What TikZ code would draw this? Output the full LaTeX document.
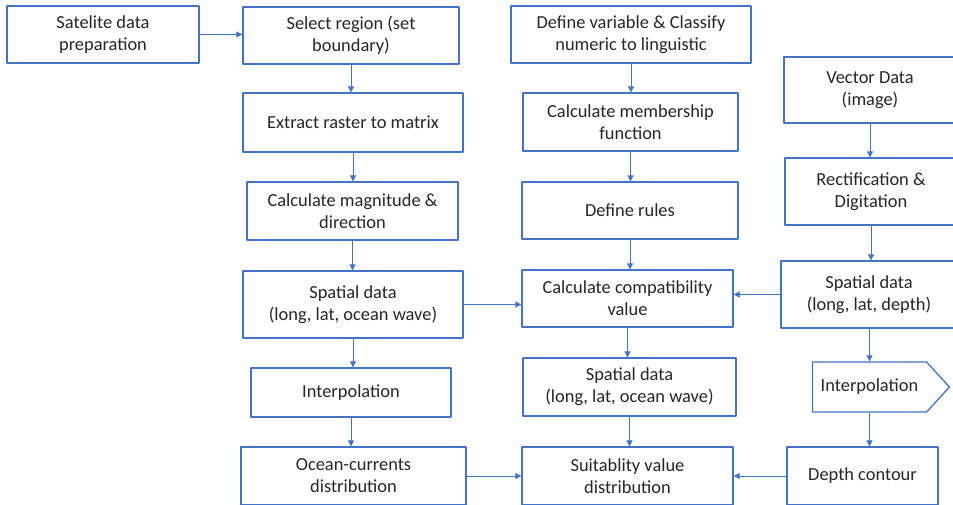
\documentclass[tikz,border=0pt]{standalone}
\usepackage{fontspec}
\setmainfont{Carlito}
\usetikzlibrary{arrows.meta,shapes.symbols}
\definecolor{boxblue}{HTML}{4472C4}
\definecolor{txt}{HTML}{262626}
\begin{document}
\begin{tikzpicture}[x=1pt, y=-1pt, line join=round,
	box/.style={draw=boxblue, line width=1.3pt, fill=white, text=txt, align=center, inner sep=0pt, font=\fontsize{18.4}{22}\selectfont},
	arr/.style={draw=boxblue, line width=0.8pt, -{Triangle[length=6pt,width=6pt]}}]
			\clip (0,0) rectangle (953,504);
			\fill[white] (0,0) rectangle (953,504);
			% left column
			\node[box, minimum width=192, minimum height=57] (sat) at (103,34.5) {Satelite data\\preparation};
			\node[box, minimum width=216, minimum height=57] (sel) at (351,35.5) {Select region (set\\boundary)};
			\node[box, minimum width=220, minimum height=59] (ext) at (353,122.5) {Extract raster to matrix};
			\node[box, minimum width=211, minimum height=58] (mag) at (352.5,211) {Calculate magnitude \&\\direction};
			\node[box, minimum width=220, minimum height=67] (spw) at (353,304.5) {Spatial data\\(long, lat, ocean wave)};
			\node[box, minimum width=200, minimum height=49] (itp) at (351,392.5) {Interpolation};
			\node[box, minimum width=225, minimum height=58] (ocd) at (353.5,476) {Ocean-currents\\distribution};
			% middle column
			\node[box, minimum width=240, minimum height=57] (dvc) at (631,34.5) {Define variable \& Classify\\numeric to linguistic};
			\node[box, minimum width=215, minimum height=58] (mem) at (630.5,122) {Calculate membership\\function};
			\node[box, minimum width=216, minimum height=57] (rul) at (630,210.5) {Define rules};
			\node[box, minimum width=211, minimum height=57] (cmp) at (627.5,298.5) {Calculate compatibility\\value};
			\node[box, minimum width=213, minimum height=58] (spo) at (629.5,387) {Spatial data\\(long, lat, ocean wave)};
			\node[box, minimum width=211, minimum height=58] (sut) at (627.5,476) {Suitablity value\\distribution};
			% right column
			\node[box, minimum width=172, minimum height=66] (vec) at (870,90) {Vector Data\\(image)};
			\node[box, minimum width=172, minimum height=67] (rec) at (871,191.5) {Rectification \&\\Digitation};
			\node[box, minimum width=176, minimum height=67] (spd) at (869,294.5) {Spatial data\\(long, lat, depth)};
			\node[box, shape=signal, signal to=east, signal from=nowhere, signal pointer angle=95, minimum width=137, minimum height=50] (pen) at (869.5,387) {Interpolation};
			\node[box, minimum width=151, minimum height=58] (dep) at (862.5,476) {Depth contour};
			% connectors
			\draw[arr] (sat.east |- sat) -- (sat -| sel.west);
			\foreach \a/\b in {sel/ext, ext/mag, mag/spw, spw/itp, itp/ocd, dvc/mem, mem/rul, rul/cmp, cmp/spo, spo/sut, vec/rec, rec/spd}
				\draw[arr] (\a.south) -- (\a.south |- \b.north);
			\draw[arr] (spd.south -| pen.north) -- (pen.north);
			\draw[arr] (pen.south) -- (pen.south |- dep.north);
			\draw[arr] (spw.east) -- (spw.east -| cmp.west);
			\draw[arr] (spd.west) -- (spd.west -| cmp.east);
			\draw[arr] (ocd.east) -- (ocd.east -| sut.west);
			\draw[arr] (dep.west) -- (dep.west -| sut.east);
		\end{tikzpicture}
\end{document}
